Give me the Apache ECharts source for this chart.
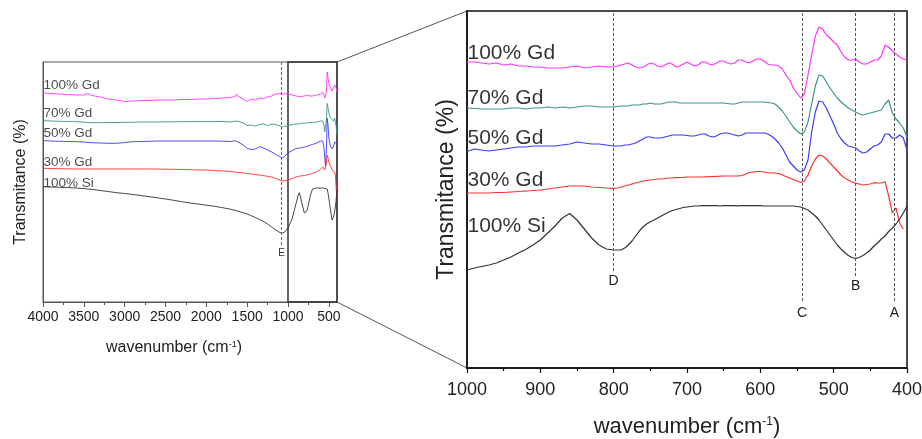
<!DOCTYPE html>
<html><head><meta charset="utf-8">
<script src="https://cdn.jsdelivr.net/npm/echarts@6/dist/echarts.min.js"></script>
<style>html,body{margin:0;padding:0;background:#fff}#c{width:922px;height:439px}</style>
</head><body><div id="c"></div>
<script>
// ---------- data: full-range panel (4000-400 cm-1) ----------
const fullWn = [4000,3900,3800,3700,3600,3500,3450,3400,3300,3200,3100,3000,2900,2800,2700,2600,2500,2400,2300,2200,2100,2000,1900,1800,1700,1650,1630,1600,1550,1500,1450,1400,1350,1300,1250,1200,1150,1100,1075,1050,1000,950,900,875,860,850,830,800,790,770,750,725,700,650,600,575,560,550,540,530,520,510,500,480,460,440,430,420,410,400];
const full100Gd = [209,208.5,208,207.5,207,207,208.5,206.5,205,203,202,200.5,201,201.5,201.5,202,202,202,202.5,202.5,203,203,203.5,204,204.5,205.5,208,205,203,200.5,203,202,204,203.5,205,206,208,208.5,208,208,208.5,207,206,205.5,205.5,205.5,206,206,206.5,206.5,206.5,206,206,207,208,210,207,204,202,210,230,224,219,214,211,211,217,218,214,210];
const full70Gd = [181.3,181,180.7,180.5,180.3,180,179.5,179.3,179.3,179.5,179.5,179.7,179.7,180,180,180,180.2,180.2,180.3,180.3,180.5,180.3,180.5,180.5,180,181,182,180.5,179,176.5,177,176,177.5,178,176.5,178,177.5,176,175,175.5,176.5,177.5,178,178,178.5,178.5,178.5,179,179,179,179,179.5,179.5,180,181,181,177,170,169,182,198.5,194,189,184,182,181,184,182,176,167];
const full50Gd = [161.3,161,160.7,160.5,160.3,160,159.5,159.3,159,158.7,158.7,159.5,160.3,160.5,160.7,161,161,161,161,161,161,161,161,160.8,160.5,161.3,161,159.5,157,153.7,152.5,153,155.3,154,152,150,147.5,145.5,143.7,145,149,151.5,153.5,153.7,154,154,154.5,155,155,155.5,156,157,157.5,159,161,161,155,144,136,152,183.7,177,164,156,153,156,160,162,159,158];
const full30Gd = [133.7,133.5,133.3,133.2,133,133,133,133,133,133,133,133,133,133,133,133,132.8,132.7,132.5,132.3,132,132,131.5,131,130.5,130,130,129.5,129,128.5,128,127.5,127,126.3,125.7,125,123.5,122,121,121,122,123.5,125,125.5,126,126,126.5,126.5,126.7,127,127,128,128.5,130,133,135,134,132,130.5,139,147,144,140,136,132,130.5,130,127,114,102];
const full100Si = [115.3,115,114.7,114.5,114,113.5,113,112.7,111.5,110.5,109.3,108.5,107.5,106.5,105.3,104.2,103,101.7,100.3,99,98,96.8,95.7,94.3,92.7,91.7,91.2,90.5,89.3,88,86.3,84.5,82.5,80.5,78,75,72,69.5,69,69.3,74,83,99,107,109.3,108,99,89,87,91,97,107,113,114,114,114,114,113.7,113.5,113.3,113,109,104,92,82,86,90,95,102,112];
const fullTicks = [4000,3500,3000,2500,2000,1500,1000,500];
const fullMinorTicks = [3750,3250,2750,2250,1750,1250,750];

// ---------- data: zoomed panel (1000-400 cm-1) ----------
const zoomWn = [1000,990,980,970,960,950,940,930,920,910,900,890,880,870,860,850,840,830,820,810,
800,795,790,785,780,775,770,765,760,755,750,745,740,735,730,725,720,715,710,705,700,695,690,685,680,675,670,665,660,655,650,645,640,635,630,625,620,615,610,605,600,595,590,585,580,575,570,565,560,555,550,545,540,535,530,525,520,515,510,505,500,495,490,485,480,475,470,465,460,455,450,445,440,435,430,425,420,415,410,405,400];
const zoom100Gd = [306,306,305,304,305,303,304,302,302,301,301,300,300,300,301,302,300,301,302,301,
301,302,303,304,305,303,301,300,301,303,305,304,302,301,303,305,304,301,302,304,306,304,302,303,306,306,304,303,305,307,307,305,304,305,308,308,306,305,307,309,309,307,304,303,303,302,299,293,288,280,275,270,274,293,313,332,341,339,333,330,326,323,316,311,308,308,309,306,304,304,306,308,308,312,323,321,317,314,311,309,308];
const zoom70Gd = [260,259.5,259,259,259,259,260,260,259,260,260,261,260,261,260,261,262,262,261,261,
261,261.5,262,262,262,263,263,263,264,264,265,264,264,264,265,266,266,266,265,265,265,265,265,265,265,265,265,265,265,265,265,264.5,264,264,265,266,266,266,266,266,266,266,265.5,265,264,261,257,252,246,241,237,234,236,246,264,282,293,292,286,280,275,270,266,263,260,258,256,254,253,254,255,256,257,258,264,268,255,249,245,240,231];
const zoom50Gd = [216.5,219,218,217,218,219,220,221,221,222,222,222,222,223,224,226,225,224,224,223,
222,222,222,223,223,224,225,227,229,231,231,230,230,230,231,232,233,233,233,233,232.5,232,232,233,234,234,232,231,232,234,235,235,234,233,232,233,235,235,235,235,235,235,234,232,229,225,220,213,206,202,198,196,198,208,236,256,267,266,260,252,244,235,229,225,222,221,220,217,215,216,219,222,223,226,234,234,230,230,233,230,218];
const zoom30Gd = [175,175,175,175,175.5,175.5,176,176.5,177,177.5,178,179,180,181,182,182,182,181,180.5,180,
179.7,180,181,182,183,184,185,186,187,187.5,188,188.5,189,189,189.5,190,190,190.3,190.5,190.7,191,191,191,191,191,191.2,191.3,191.5,191.7,191.8,192,192,192,192,192.2,192.5,194,195.5,196,196.5,196.5,196,195.5,195,195,194.5,193,191.5,190,188.5,187,185.5,187,193,202,209,213,212,209,205,201,197,193,190,188,186,184.7,184,183,183.5,184,185.3,185,185,186.3,172,155,160,145,139,null];
const zoom100Si = [98,100,101.5,103,105,108,111,115,118.5,123,128,135,142,150,154.5,148,139,130,123,119,
118,118,118,120,123,127,132,137,141,144,146.3,148,150,152,154,156,157.5,158.5,159.5,160.5,161,161.5,162,162,162.3,162.3,162.3,162.3,162.3,162,162.3,162.3,162.3,162.3,162.2,162.3,162.3,162.3,162.3,162.3,162.3,162,162,162,162,162,162,162,162,162,161.5,161,159.5,158,155,152,148,143,138,133,128,123,119,115.5,112.5,110.5,109.7,110.5,112.5,115,118,122,125,129,132,136.5,140,144,149,155,162];

// ---------- series meta / annotations ----------
const seriesNames = ['100% Gd','70% Gd','50% Gd','30% Gd','100% Si'];
const fullLabelY = [216.3,188.7,168.7,140,118.7];
const zoomLabelY = [314.7,269.7,229.7,188,142];
const zoomMarkNames = ['D','C','B','A'];
const zoomMarkWn = [800,543,470,417];
const zoomMarkEnd = [97,65,92,65];
const fullMarkNames = ['E'];
const fullMarkWn = [1078];
const fullMarkEnd = [56];

const colors = ['#ff33ff','#3a978c','#3a3aff','#ff3030','#333333'];
const FONT = 'Liberation Sans, Arial, sans-serif';
const fullData = [full100Gd, full70Gd, full50Gd, full30Gd, full100Si];
const zoomData = [zoom100Gd, zoom70Gd, zoom50Gd, zoom30Gd, zoom100Si];
const plainNum = v => String(v);

const chart = echarts.init(document.getElementById('c'), null, {renderer:'canvas'});

const series = [];
fullData.forEach((arr, k) => {
  const s = {
    type:'line', xAxisIndex:0, yAxisIndex:0, name:seriesNames[k],
    data: fullWn.map((w,i)=>[w, arr[i]]),
    showSymbol:false, symbol:'none', animation:false, silent:true,
    lineStyle:{color:colors[k], width:0.9}, itemStyle:{color:colors[k]}, z:3
  };
  if (k === 4) {
    s.markLine = {
      silent:true, symbol:['none','none'], animation:false,
      lineStyle:{type:[3,2], color:'#666', width:1},
      label:{show:true, position:'end', formatter:'{b}', fontSize:10, color:'#333', fontFamily:FONT, distance:2},
      data: fullMarkNames.map((n,i)=>[{name:n, coord:[fullMarkWn[i], 240]}, {coord:[fullMarkWn[i], fullMarkEnd[i]]}])
    };
    s.markArea = {
      silent:true, animation:false,
      itemStyle:{color:'rgba(0,0,0,0)', borderColor:'#333', borderWidth:1.5},
      data:[[{xAxis:1000},{xAxis:400}]]
    };
  }
  series.push(s);
});
zoomData.forEach((arr, k) => {
  const s = {
    type:'line', xAxisIndex:2, yAxisIndex:1, name:seriesNames[k]+' z',
    data: zoomWn.map((w,i)=>[w, arr[i]]),
    showSymbol:false, symbol:'none', animation:false, silent:true, connectNulls:false,
    lineStyle:{color:colors[k], width:1.2}, itemStyle:{color:colors[k]}, z:3
  };
  if (k === 4) {
    s.markLine = {
      silent:true, symbol:['none','none'], animation:false,
      lineStyle:{type:[3,2], color:'#555', width:1},
      label:{show:true, position:'end', formatter:'{b}', fontSize:14, color:'#222', fontFamily:FONT, distance:3},
      data: zoomMarkNames.map((n,i)=>[{name:n, coord:[zoomMarkWn[i], 355]}, {coord:[zoomMarkWn[i], zoomMarkEnd[i]]}])
    };
  }
  series.push(s);
});
// series name labels
series.push({
  type:'scatter', xAxisIndex:0, yAxisIndex:0, silent:true, animation:false, clip:false,
  symbolSize:1, itemStyle:{color:'rgba(0,0,0,0)'},
  data: seriesNames.map((n,i)=>({value:[4000, fullLabelY[i]], name:n})),
  label:{show:true, position:'right', distance:0, formatter:'{b}', fontSize:13.5, color:'#1a1a1a', fontFamily:FONT}
});
series.push({
  type:'scatter', xAxisIndex:2, yAxisIndex:1, silent:true, animation:false, clip:false,
  symbolSize:1, itemStyle:{color:'rgba(0,0,0,0)'},
  data: seriesNames.map((n,i)=>({value:[1000, zoomLabelY[i]], name:n})),
  label:{show:true, position:'right', distance:0, formatter:'{b}', fontSize:21, color:'#000', fontFamily:FONT}
});

const option = {
  backgroundColor:'#fff',
  animation:false,
  grid:[
    {left:43, top:62, width:294, height:240, show:true, borderColor:'#555', borderWidth:1, backgroundColor:'rgba(0,0,0,0)', containLabel:false, outerBoundsMode:'none'},
    {left:467, top:11, width:440, height:357, show:true, borderColor:'#111', borderWidth:1.5, backgroundColor:'rgba(0,0,0,0)', containLabel:false, outerBoundsMode:'none'}
  ],
  xAxis:[
    {gridIndex:0, type:'value', min:400, max:4000, inverse:true, position:'bottom',
     axisLine:{show:true, onZero:false, lineStyle:{color:'#555', width:1}},
     axisTick:{show:true, customValues:fullTicks, length:5, lineStyle:{color:'#555'}},
     axisLabel:{customValues:fullTicks, formatter:plainNum, fontSize:14, color:'#222', fontFamily:FONT, margin:8},
     splitLine:{show:false},
     name:'wavenumber (cm{sup|-1})', nameLocation:'middle', nameGap:38,
     nameTextStyle:{fontSize:16, color:'#222', fontFamily:FONT, padding:[0,32,0,0],
       rich:{sup:{fontSize:9, verticalAlign:'top', fontFamily:FONT, color:'#222'}}}},
    {gridIndex:0, type:'value', min:400, max:4000, inverse:true, position:'bottom',
     axisLine:{show:false, onZero:false},
     axisTick:{show:true, customValues:fullMinorTicks, length:3, lineStyle:{color:'#555'}},
     axisLabel:{show:false}, splitLine:{show:false}},
    {gridIndex:1, type:'value', min:400, max:1000, interval:100, inverse:true, position:'bottom',
     axisLine:{show:true, onZero:false, lineStyle:{color:'#111', width:1.5}},
     axisTick:{show:true, length:5, lineStyle:{color:'#111', width:1.2}},
     minorTick:{show:true, splitNumber:2, length:3, lineStyle:{color:'#111', width:1.2}},
     axisLabel:{formatter:plainNum, fontSize:18, color:'#222', fontFamily:FONT, margin:13, showMinLabel:true, showMaxLabel:true},
     splitLine:{show:false},
     name:'wavenumber (cm{sup|-1})', nameLocation:'middle', nameGap:48,
     nameTextStyle:{fontSize:22, color:'#222', fontFamily:FONT,
       rich:{sup:{fontSize:12, verticalAlign:'top', fontFamily:FONT, color:'#222'}}}}
  ],
  yAxis:[
    {gridIndex:0, type:'value', min:0, max:240,
     axisLine:{show:true, lineStyle:{color:'#555'}}, axisTick:{show:false}, axisLabel:{show:false}, splitLine:{show:false},
     name:'Transmitance (%)', nameLocation:'middle', nameGap:14,
     nameTextStyle:{fontSize:16, color:'#222', fontFamily:FONT}},
    {gridIndex:1, type:'value', min:0, max:357,
     axisLine:{show:true, lineStyle:{color:'#111', width:1.5}}, axisTick:{show:false}, axisLabel:{show:false}, splitLine:{show:false},
     name:'Transmitance (%)', nameLocation:'middle', nameGap:9,
     nameTextStyle:{fontSize:23, color:'#222', fontFamily:FONT}}
  ],
  series: series
};
chart.setOption(option);

// connector lines between zoom box and zoomed panel, from the library's own scales
const a1 = chart.convertToPixel({gridIndex:0}, [400, 240]);
const a2 = chart.convertToPixel({gridIndex:0}, [400, 0]);
const b1 = chart.convertToPixel({gridIndex:1}, [1000, 357]);
const b2 = chart.convertToPixel({gridIndex:1}, [1000, 0]);
chart.setOption({
  graphic:[
    {type:'line', shape:{x1:a1[0], y1:a1[1], x2:b1[0], y2:b1[1]}, style:{stroke:'#555', lineWidth:1}, silent:true},
    {type:'line', shape:{x1:a2[0], y1:a2[1], x2:b2[0], y2:b2[1]}, style:{stroke:'#555', lineWidth:1}, silent:true}
  ]
});
</script>
</body></html>
